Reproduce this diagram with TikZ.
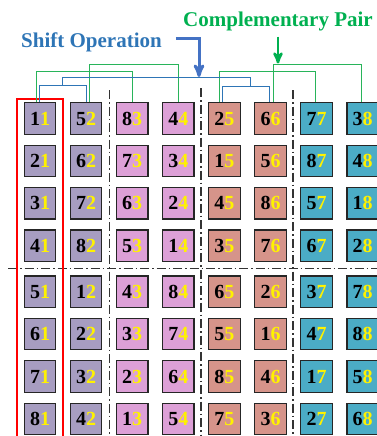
\documentclass[tikz,border=0pt]{standalone}
\usepackage{fontspec}
\setmainfont{Liberation Serif}
\usetikzlibrary{arrows,positioning}
\definecolor{boxpurple}{RGB}{167,157,193}
\definecolor{boxpink}{RGB}{221,160,215}
\definecolor{boxrose}{RGB}{214,148,138}
\definecolor{boxteal}{RGB}{75,172,198}
\definecolor{shiftblue}{RGB}{46,117,182}
\definecolor{pairgreen}{RGB}{40,180,90}
\definecolor{arrowblue}{RGB}{68,114,196}
\definecolor{arrowgreen}{RGB}{0,176,80}
\definecolor{framered}{RGB}{255,0,0}
\newcommand{\pr}[2]{#1\textcolor{yellow}{#2}}

\begin{document}
\begin{tikzpicture}[x=1pt,y=-1pt,>=stealth',node distance=9.7pt and 13.4pt,
                    main node/.style={draw=black!85,line width=1.2pt,minimum size=31.5pt,inner sep=0pt,
                                      font=\fontsize{20}{21}\selectfont\bfseries},
                    purple node/.style={main node,fill=boxpurple},
                    pink node/.style={main node,fill=boxpink},
                    rose node/.style={main node,fill=boxrose},
                    teal node/.style={main node,fill=boxteal},
                    title/.style={inner sep=0pt,font=\fontsize{21}{24}\selectfont\bfseries},
                    sep line/.style={black!80,line width=1.1pt,dash pattern=on 9pt off 3pt on 1.5pt off 3pt},
                    pair line/.style={pairgreen,line width=1pt},
                    shift line/.style={shiftblue,line width=1pt}]
\useasboundingbox (0,0) rectangle (377,436);

% dividing lines and the red column
\draw[sep line] (109.5,90) -- (109.5,436);
\draw[sep line] (201,88) -- (201,436);
\draw[sep line] (293,90) -- (293,436);
\draw[sep line] (8,268.5) -- (377,268.5);
\draw[draw=framered,line width=1.3pt] (17,436) -- (17,99) -- (63,99) -- (63,436);

% upper block
\node[purple node] (11) at (40,118.5) {\pr{1}{1}};
\node[purple node] (52) [right=of 11] {\pr{5}{2}};
\node[pink node] (83) [right=of 52] {\pr{8}{3}};
\node[pink node] (44) [right=of 83] {\pr{4}{4}};
\node[rose node] (25) [right=of 44] {\pr{2}{5}};
\node[rose node] (66) [right=of 25] {\pr{6}{6}};
\node[teal node] (77) [right=of 66] {\pr{7}{7}};
\node[teal node] (38) [right=of 77] {\pr{3}{8}};

\node[purple node] (21) [below=of 11] {\pr{2}{1}};
\node[purple node] (62) [right=of 21] {\pr{6}{2}};
\node[pink node] (73) [right=of 62] {\pr{7}{3}};
\node[pink node] (34) [right=of 73] {\pr{3}{4}};
\node[rose node] (15) [right=of 34] {\pr{1}{5}};
\node[rose node] (56) [right=of 15] {\pr{5}{6}};
\node[teal node] (87) [right=of 56] {\pr{8}{7}};
\node[teal node] (48) [right=of 87] {\pr{4}{8}};

\node[purple node] (31) [below=of 21] {\pr{3}{1}};
\node[purple node] (72) [right=of 31] {\pr{7}{2}};
\node[pink node] (63) [right=of 72] {\pr{6}{3}};
\node[pink node] (24) [right=of 63] {\pr{2}{4}};
\node[rose node] (45) [right=of 24] {\pr{4}{5}};
\node[rose node] (86) [right=of 45] {\pr{8}{6}};
\node[teal node] (57) [right=of 86] {\pr{5}{7}};
\node[teal node] (18) [right=of 57] {\pr{1}{8}};

\node[purple node] (41) [below=of 31] {\pr{4}{1}};
\node[purple node] (82) [right=of 41] {\pr{8}{2}};
\node[pink node] (53) [right=of 82] {\pr{5}{3}};
\node[pink node] (14) [right=of 53] {\pr{1}{4}};
\node[rose node] (35) [right=of 14] {\pr{3}{5}};
\node[rose node] (76) [right=of 35] {\pr{7}{6}};
\node[teal node] (67) [right=of 76] {\pr{6}{7}};
\node[teal node] (28) [right=of 67] {\pr{2}{8}};

% lower block
\node[purple node] (51) [below=13.3pt of 41] {\pr{5}{1}};
\node[purple node] (12) [right=of 51] {\pr{1}{2}};
\node[pink node] (43) [right=of 12] {\pr{4}{3}};
\node[pink node] (84) [right=of 43] {\pr{8}{4}};
\node[rose node] (65) [right=of 84] {\pr{6}{5}};
\node[rose node] (26) [right=of 65] {\pr{2}{6}};
\node[teal node] (37) [right=of 26] {\pr{3}{7}};
\node[teal node] (78) [right=of 37] {\pr{7}{8}};

\node[purple node] (61) [below=of 51] {\pr{6}{1}};
\node[purple node] (22) [right=of 61] {\pr{2}{2}};
\node[pink node] (33) [right=of 22] {\pr{3}{3}};
\node[pink node] (74) [right=of 33] {\pr{7}{4}};
\node[rose node] (55) [right=of 74] {\pr{5}{5}};
\node[rose node] (16) [right=of 55] {\pr{1}{6}};
\node[teal node] (47) [right=of 16] {\pr{4}{7}};
\node[teal node] (88) [right=of 47] {\pr{8}{8}};

\node[purple node] (71) [below=of 61] {\pr{7}{1}};
\node[purple node] (32) [right=of 71] {\pr{3}{2}};
\node[pink node] (23) [right=of 32] {\pr{2}{3}};
\node[pink node] (64) [right=of 23] {\pr{6}{4}};
\node[rose node] (85) [right=of 64] {\pr{8}{5}};
\node[rose node] (46) [right=of 85] {\pr{4}{6}};
\node[teal node] (17) [right=of 46] {\pr{1}{7}};
\node[teal node] (58) [right=of 17] {\pr{5}{8}};

\node[purple node] (81) [below=of 71] {\pr{8}{1}};
\node[purple node] (42) [right=of 81] {\pr{4}{2}};
\node[pink node] (13) [right=of 42] {\pr{1}{3}};
\node[pink node] (54) [right=of 13] {\pr{5}{4}};
\node[rose node] (75) [right=of 54] {\pr{7}{5}};
\node[rose node] (36) [right=of 75] {\pr{3}{6}};
\node[teal node] (27) [right=of 36] {\pr{2}{7}};
\node[teal node] (68) [right=of 27] {\pr{6}{8}};

% complementary pairs
\draw[pair line] ([xshift=-3.5pt]11.north) -- ++(0,-31) -| (83.north);
\draw[pair line] ([xshift=3.5pt]52.north) -- ++(0,-38) -| (44.north);
\draw[pair line] ([xshift=-5pt]25.north) -- ++(0,-31) -| ([xshift=-1.5pt]77.north);
\draw[pair line] ([xshift=3pt]66.north) -- ++(0,-38) -| ([xshift=-1.5pt]38.north);

% shift operation
\draw[shift line] ([xshift=-1pt]11.north) -- ++(0,-16.5) -| coordinate[pos=0.25] (s1) ([xshift=0.5pt]52.north);
\draw[shift line] ([xshift=-1.5pt]25.north) -- ++(0,-15.5) -| coordinate[pos=0.3] (s2) ([xshift=-1.5pt]66.north);
\draw[shift line] (s1) -- ++(0,-8.5) -| (s2);

% labels
\node[title,text=shiftblue,anchor=base west] (shift) at (21,47.7) {Shift Operation};
\node[title,text=arrowgreen,anchor=base] (pair) at (278,27) {Complementary Pair};
\coordinate (tip1) at (199,77);
\coordinate (tip2) at (278,63.5);
\draw[->,arrowblue,line width=3pt] ([xshift=14pt,yshift=4pt]shift.east) -| (tip1);
\draw[->,arrowgreen,line width=2.6pt] ([yshift=-5pt]pair.south) -- (tip2);

\end{tikzpicture}
\end{document}
